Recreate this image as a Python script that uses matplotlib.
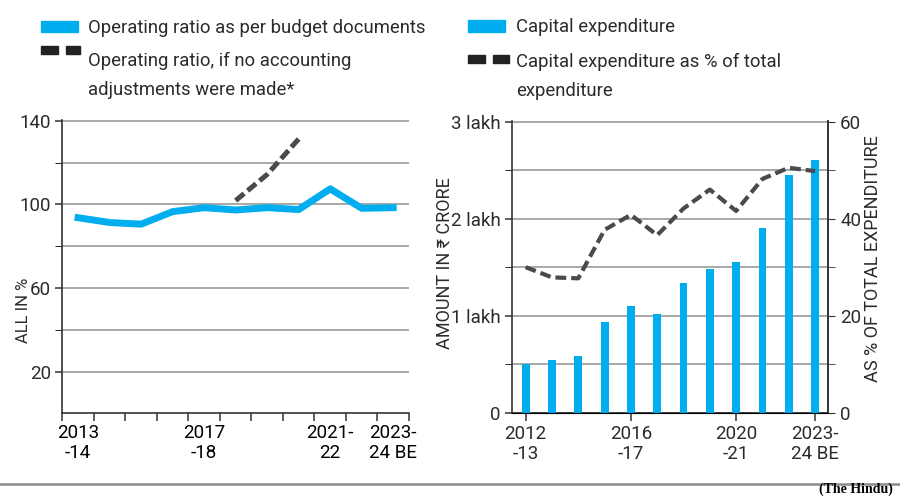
import numpy as np
import matplotlib.pyplot as plt
from matplotlib.patches import Rectangle

NARROW = ['Liberation Sans Narrow', 'Roboto', 'DejaVu Sans']
PLAIN = ['Roboto', 'DejaVu Sans']
BLUE = '#00AEEF'
DARK = '#4a4a4a'
GRID = '#9a9a9a'
TXT = '#2b2b2b'
LEG_FS = 13.3

# left chart: operating ratio (%)
years_or = ['2013-14', '2014-15', '2015-16', '2016-17', '2017-18', '2018-19',
            '2019-20', '2020-21', '2021-22', '2022-23', '2023-24 BE']
op_ratio = [93.6, 91.3, 90.5, 96.5, 98.4, 97.3, 98.4, 97.5, 107.4, 98.1, 98.4]
op_ratio_noadj = [None, None, None, None, None, 101.8, 114.3, 131.3, None, None, None]
or_tick_idx = [0, 4, 8, 10]
or_tick_lbl = ['2013\n-14', '2017\n-18', '2021-\n22', '2023-\n24 BE']

# right chart: capital expenditure (Rs crore) and share of total expenditure (%)
years_cx = ['2012-13', '2013-14', '2014-15', '2015-16', '2016-17', '2017-18',
            '2018-19', '2019-20', '2020-21', '2021-22', '2022-23', '2023-24 BE']
capex = [49800, 54300, 58800, 93800, 109600, 102100, 133300, 147800,
         155300, 190700, 245000, 260500]
capex_share = [30.0, 27.9, 27.7, 37.7, 40.8, 36.6, 42.1, 46.0, 41.6, 48.2, 50.5, 49.8]
cx_tick_idx = [0, 4, 8, 11]
cx_tick_lbl = ['2012\n-13', '2016\n-17', '2020\n-21', '2023-\n24 BE']

fig = plt.figure(figsize=(9, 5), dpi=100)
W, H = 900, 500


def fx(px):
    return px / W


def fy(py):
    return 1 - py / H


def style_axis(ax):
    for s in ['top', 'right']:
        ax.spines[s].set_visible(False)
    for s in ['left', 'bottom', 'right']:
        ax.spines[s].set_color('#333333')
        ax.spines[s].set_linewidth(1.2)
    ax.tick_params(colors='#333333', labelcolor=TXT, width=1.1)


# ---------------- left chart ----------------
ax1 = fig.add_axes([fx(62.3), fy(413.3), fx(346.7), (413.3 - 119.7) / H])
style_axis(ax1)
x1 = np.arange(len(years_or))
nadj = np.array([np.nan if v is None else v for v in op_ratio_noadj], dtype=float)
ax1.plot(x1, op_ratio, color=BLUE, lw=5, solid_joinstyle='round', zorder=3)
ax1.plot(x1, nadj, color=DARK, lw=3.6, dashes=(2.2, 0.9), zorder=4)
ax1.set_xlim(-0.5, len(years_or) - 0.5)
ax1.set_ylim(0, 140.5)
ax1.set_yticks([20, 60, 100, 140])
ax1.set_yticks([40, 80, 120], minor=True)
ax1.set_xticks(np.arange(-0.5, len(years_or), 1))
ax1.set_xticklabels([])
ax1.set_xticks(or_tick_idx, or_tick_lbl, minor=True)
ax1.tick_params(axis='x', which='major', length=6, direction='out')
ax1.tick_params(axis='x', which='minor', length=0, pad=8)
ax1.tick_params(axis='y', which='both', length=5, pad=3)
ax1.grid(axis='y', which='both', color=GRID, lw=1.2)
ax1.set_axisbelow(True)
for lab in ax1.get_yticklabels() + ax1.get_xticklabels(minor=True):
    lab.set_family(NARROW)
    lab.set_fontsize(13.5)
for lab in ax1.get_xticklabels(minor=True):
    lab.set_linespacing(1.1)
fig.text(fx(23), fy(310.7), 'ALL IN %', rotation=90, ha='center', va='center',
         family=PLAIN, fontsize=12, color=TXT)

# ---------------- right chart ----------------
ax2 = fig.add_axes([fx(511.7), fy(412.7), fx(316), (412.7 - 120.7) / H])
style_axis(ax2)
ax2.spines['right'].set_visible(True)
x2 = np.arange(len(years_cx))
ax2.bar(x2, capex, width=0.3, color=BLUE, zorder=3)
ax2.set_xlim(-0.53, len(years_cx) - 0.52)
ax2.set_ylim(0, 301000)
ax2.set_yticks([0, 100000, 200000, 300000], ['0', '1 lakh', '2 lakh', '3 lakh'])
ax2.set_yticks([50000, 150000, 250000], minor=True)
ax2.set_xticks(cx_tick_idx, cx_tick_lbl)
ax2.tick_params(axis='x', length=6, pad=3)
ax2.tick_params(axis='y', which='both', length=5, pad=3)
ax2.grid(axis='y', which='both', color=GRID, lw=1.2)
ax2.set_axisbelow(True)

ax3 = ax2.twinx()
ax3.spines['top'].set_visible(False)
ax3.spines['left'].set_visible(False)
ax3.spines['right'].set_color('#333333')
ax3.spines['right'].set_linewidth(1.2)
ax3.plot(x2, capex_share, color=DARK, lw=3, dashes=(2.6, 1.2), zorder=4)
ax3.set_ylim(0, 60.2)
ax3.set_yticks([0, 20, 40, 60])
ax3.set_yticks([10, 30, 50], minor=True)
ax3.tick_params(axis='y', which='both', length=5, pad=4, colors='#333333', labelcolor=TXT)
for lab in (ax2.get_yticklabels() + ax2.get_xticklabels() + ax3.get_yticklabels()):
    lab.set_family(NARROW)
    lab.set_fontsize(13.5)
for lab in ax2.get_xticklabels():
    lab.set_linespacing(1.1)
fig.text(fx(445), fy(263.5), 'AMOUNT IN ₹ CRORE', rotation=90, ha='center', va='center',
         family=PLAIN, fontsize=13, color=TXT)
fig.text(fx(873), fy(259), 'AS % OF TOTAL EXPENDITURE', rotation=90, ha='center',
         va='center', family=PLAIN, fontsize=13, color=TXT)

# ---------------- legends ----------------
def sq(x0, x1_, y0, y1_, color):
    fig.patches.append(Rectangle((fx(x0), fy(y1_)), fx(x1_ - x0), (y1_ - y0) / H,
                                 transform=fig.transFigure, color=color, figure=fig))


sq(41, 78, 21, 32, BLUE)
fig.text(fx(88), fy(33), 'Operating ratio as per budget documents', family=NARROW,
         fontsize=LEG_FS, color=TXT, va='baseline')
sq(41, 58, 46, 54, '#222222')
sq(66, 80, 46, 54, '#222222')
fig.text(fx(88), fy(66), 'Operating ratio, if no accounting', family=NARROW,
         fontsize=LEG_FS, color=TXT, va='baseline')
fig.text(fx(88), fy(95), 'adjustments were made*', family=NARROW,
         fontsize=LEG_FS, color=TXT, va='baseline')

sq(468, 505, 20, 32, BLUE)
fig.text(fx(516), fy(32), 'Capital expenditure', family=NARROW,
         fontsize=LEG_FS, color=TXT, va='baseline')
sq(468, 485, 55, 63, '#222222')
sq(493, 509, 55, 63, '#222222')
fig.text(fx(516), fy(67), 'Capital expenditure as % of total', family=NARROW,
         fontsize=LEG_FS, color=TXT, va='baseline')
fig.text(fx(516), fy(96), 'expenditure', family=NARROW,
         fontsize=LEG_FS, color=TXT, va='baseline')

# bottom rule and credit
fig.add_artist(plt.Line2D([0, 1], [fy(484), fy(484)], transform=fig.transFigure,
                          color='#8a8a8a', lw=1.8))
fig.text(fx(893), fy(489), '(The Hindu)', family=['Liberation Serif', 'DejaVu Serif'],
         fontweight='bold', fontsize=10, ha='right', va='center', color='black')

fig.savefig('out.png', dpi=100)
